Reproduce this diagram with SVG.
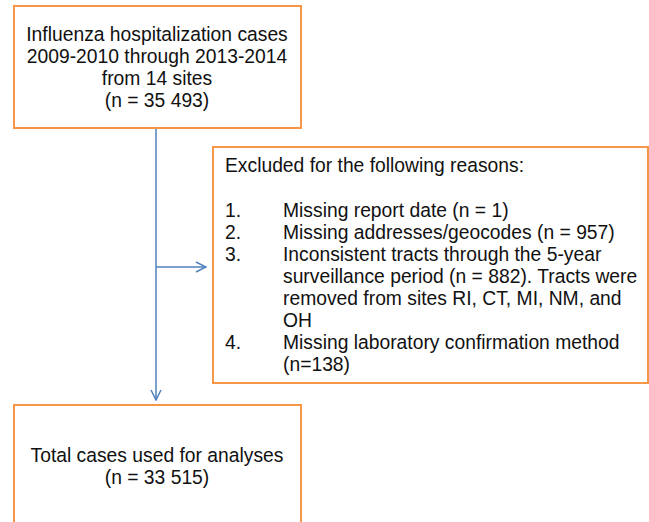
<svg xmlns="http://www.w3.org/2000/svg" width="649" height="522" viewBox="0 0 649 522">
<style>
.box{fill:#fff;stroke:#F79646;stroke-width:2}
.t{font-family:"Liberation Sans",Arial,sans-serif;font-size:19.3px;fill:#111}
.c{text-anchor:middle}
.ln{fill:none;stroke:#4F81BD;stroke-width:1.5}
</style>
<defs>
<marker id="open" viewBox="0 0 12 12" refX="11" refY="6" markerWidth="12" markerHeight="12" markerUnits="userSpaceOnUse" orient="auto">
<path d="M1,1 L11,6 L1,11" fill="none" stroke="#4F81BD" stroke-width="1.5"/>
</marker>
</defs>
<rect width="649" height="522" fill="#fff"/>
<g id="connectors">
<line class="ln" x1="156" y1="128" x2="156" y2="400" marker-end="url(#open)"/>
<line class="ln" x1="156" y1="267" x2="206" y2="267" marker-end="url(#open)"/>
</g>
<g id="node-top">
<rect class="box" x="14" y="6" width="287" height="122"/>
<text class="t c" x="157" y="41">Influenza hospitalization cases</text>
<text class="t c" x="157" y="63">2009-2010 through 2013-2014</text>
<text class="t c" x="157" y="85">from 14 sites</text>
<text class="t c" x="157" y="107">(n = 35 493)</text>
</g>
<g id="node-excluded">
<rect class="box" x="213" y="147" width="435" height="236"/>
<text class="t" x="225" y="172">Excluded for the following reasons:</text>
<text class="t" x="225" y="217">1.</text>
<text class="t" x="283" y="217">Missing report date (n = 1)</text>
<text class="t" x="225" y="239">2.</text>
<text class="t" x="283" y="239">Missing addresses/geocodes (n = 957)</text>
<text class="t" x="225" y="261">3.</text>
<text class="t" x="283" y="261">Inconsistent tracts through the 5-year</text>
<text class="t" x="283" y="283">surveillance period (n = 882). Tracts were</text>
<text class="t" x="283" y="305">removed from sites RI, CT, MI, NM, and</text>
<text class="t" x="283" y="327">OH</text>
<text class="t" x="225" y="349">4.</text>
<text class="t" x="283" y="349">Missing laboratory confirmation method</text>
<text class="t" x="283" y="371">(n=138)</text>
</g>
<g id="node-total">
<rect class="box" x="14" y="405" width="287" height="140"/>
<text class="t c" x="157" y="462">Total cases used for analyses</text>
<text class="t c" x="157" y="484">(n = 33 515)</text>
</g>
</svg>
